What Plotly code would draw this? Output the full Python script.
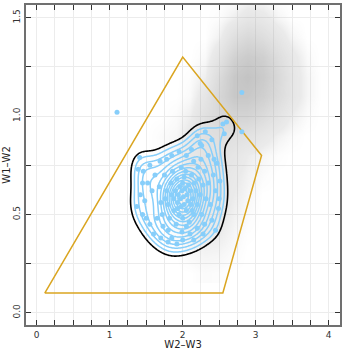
import numpy as np
import plotly.graph_objects as go

# ---- data ----
# wedge polygon (W2-W3, W1-W2)
wedge_x = [0.11, 2.00, 3.08, 2.55, 0.11]
wedge_y = [0.10, 1.30, 0.80, 0.10, 0.10]

# background (gray) population: estimated point density on a coarse grid
grid_x = [1.5, 1.7, 1.9, 2.1, 2.3, 2.5, 2.7, 2.9, 3.1, 3.3, 3.5, 3.7, 3.9]
grid_y = [0.2, 0.3, 0.4, 0.5, 0.6, 0.7, 0.8, 0.9, 1.0, 1.1, 1.2, 1.3, 1.4, 1.5, 1.6]
density = [
    [0, 0, 0, 0, 0.3, 0.2, 0, 0, 0, 0, 0, 0, 0],        # 0.2
    [0, 0, 0, 0.5, 0.8, 0.7, 0.3, 0, 0, 0, 0, 0, 0],    # 0.3
    [0, 0, 0.3, 1.0, 1.5, 1.4, 0.6, 0.1, 0, 0, 0, 0, 0],  # 0.4
    [0, 0, 0.3, 1.4, 2.0, 2.0, 1.0, 0.3, 0, 0, 0, 0, 0],  # 0.5
    [0, 0, 0.3, 1.6, 2.5, 2.4, 1.4, 0.6, 0, 0, 0, 0, 0],  # 0.6
    [0, 0, 0.3, 1.6, 2.8, 2.8, 1.8, 0.9, 0.3, 0, 0, 0, 0],  # 0.7
    [0, 0.2, 0.8, 2.0, 3.2, 3.3, 2.5, 1.4, 0.7, 0.2, 0, 0, 0],  # 0.8
    [0, 0.3, 0.6, 2.0, 3.8, 4.2, 4.0, 3.4, 2.2, 1.0, 0.3, 0, 0],  # 0.9
    [0, 0, 0.3, 1.2, 3.8, 5.5, 6.5, 6.5, 5.0, 3.0, 1.2, 0.3, 0],  # 1.0
    [0, 0, 0, 0.4, 2.5, 6.0, 9.0, 9.0, 7.5, 5.0, 2.5, 0.7, 0],  # 1.1
    [0, 0, 0, 0.2, 1.2, 5.0, 9.0, 10.0, 8.5, 5.5, 2.5, 0.7, 0],  # 1.2
    [0, 0, 0, 0, 0.4, 3.0, 7.0, 8.5, 7.5, 4.5, 2.0, 0.4, 0],  # 1.3
    [0, 0, 0, 0, 0, 1.0, 4.0, 5.5, 4.5, 2.5, 0.7, 0, 0],  # 1.4
    [0, 0, 0, 0, 0, 0.2, 1.2, 2.5, 2.0, 0.7, 0, 0, 0],  # 1.5
    [0, 0, 0, 0, 0, 0, 0, 0.5, 0.4, 0, 0, 0, 0],  # 1.6
]

# highlighted (blue) sources
blue_x = [1.10, 2.81, 2.55, 2.60, 2.81, 2.57,
          1.41, 1.39, 1.46, 1.37, 1.48, 1.52, 1.55, 1.58, 1.50,
          1.45, 1.55, 1.60, 1.70, 1.42, 1.45,
          1.69, 1.78, 1.85, 1.95, 2.05, 2.12, 2.24, 2.26, 2.31, 2.20, 2.35, 2.40,
          2.47, 2.42, 2.51, 2.45, 2.49, 2.40, 2.45, 2.50, 2.43,
          1.73, 1.99, 1.85, 2.10, 2.20, 1.65, 2.30, 1.92,
          1.80, 2.00, 2.15, 2.28,
          1.62, 1.68, 1.70, 1.72, 1.75, 1.78, 1.80, 1.82, 1.84, 1.86, 1.88, 1.88,
          1.90, 1.91, 1.92, 1.93, 1.94, 1.95, 1.96, 1.97, 1.98, 1.99, 2.00, 2.00,
          2.01, 2.02, 2.03, 2.04, 2.05, 2.06, 2.07, 2.08, 2.09, 2.10, 2.11, 2.12,
          2.14, 2.15, 2.16, 2.18, 2.20, 2.21, 2.22, 2.24, 2.26, 2.28, 2.30, 2.32,
          2.35, 2.25, 2.15, 1.98, 1.80, 2.05, 1.85, 1.93, 2.02, 1.76, 2.13, 2.38]
blue_y = [1.02, 1.12, 0.96, 0.97, 0.92, 0.91,
          0.79, 0.73, 0.72, 0.54, 0.57, 0.66, 0.75, 0.62, 0.48,
          0.50, 0.45, 0.40, 0.38, 0.60, 0.66,
          0.77, 0.78, 0.80, 0.82, 0.80, 0.83, 0.86, 0.85, 0.92, 0.90, 0.80, 0.88,
          0.76, 0.70, 0.67, 0.62, 0.53, 0.47, 0.42, 0.58, 0.78,
          0.44, 0.41, 0.38, 0.40, 0.43, 0.48, 0.45, 0.35,
          0.36, 0.37, 0.37, 0.40,
          0.70, 0.64, 0.56, 0.50, 0.70, 0.62, 0.55, 0.48, 0.66, 0.72, 0.58, 0.52,
          0.62, 0.45, 0.68, 0.56, 0.60, 0.50, 0.64, 0.58, 0.54, 0.62, 0.66, 0.48,
          0.59, 0.55, 0.63, 0.72, 0.52, 0.60, 0.57, 0.65, 0.46, 0.62, 0.55, 0.70,
          0.58, 0.50, 0.66, 0.62, 0.55, 0.74, 0.68, 0.60, 0.50, 0.65, 0.72, 0.58,
          0.66, 0.78, 0.77, 0.74, 0.42, 0.44, 0.60, 0.53, 0.69, 0.58, 0.52, 0.55]

x_ticks = [0, 1, 2, 3, 4]
y_ticks = [0.0, 0.5, 1.0, 1.5]

# ---- kernel density of the blue sources (for the contours) ----
bx, by = 0.13, 0.065
gx = np.linspace(1.0, 3.0, 161)
gy = np.linspace(0.15, 1.15, 141)
GX, GY = np.meshgrid(gx, gy)
Z = np.zeros_like(GX)
for px, py in zip(blue_x, blue_y):
    Z += np.exp(-0.5 * (((GX - px) / bx) ** 2 + ((GY - py) / by) ** 2))
Z = Z / Z.max()

fig = go.Figure()

fig.add_trace(go.Heatmap(
    x=grid_x, y=grid_y, z=density, zsmooth="best", showscale=False,
    zmin=0, zmax=10, hoverinfo="skip",
    colorscale=[[0, "rgba(150,150,150,0)"], [0.15, "rgba(150,150,150,0.2)"],
                [1, "rgba(140,140,140,0.52)"]],
))

fig.add_trace(go.Scatter(
    x=wedge_x, y=wedge_y, mode="lines",
    line=dict(color="#DAA520", width=1.5), hoverinfo="skip",
))

fig.add_trace(go.Scatter(
    x=blue_x, y=blue_y, mode="markers",
    marker=dict(color="#87CEFA", size=5, line=dict(width=0)),
))

fig.add_trace(go.Contour(
    x=gx, y=gy, z=Z, showscale=False, hoverinfo="skip",
    contours=dict(coloring="lines", start=0.17, end=0.95, size=0.06),
    colorscale=[[0, "#87CEFA"], [1, "#87CEFA"]],
    line=dict(width=1.5),
))

fig.add_trace(go.Contour(
    x=gx, y=gy, z=Z, showscale=False, hoverinfo="skip",
    contours=dict(coloring="lines", start=0.115, end=0.115, size=0.1),
    colorscale=[[0, "black"], [1, "black"]],
    line=dict(width=1.6),
))

axis_common = dict(
    showline=True, linecolor="#707070", linewidth=2, mirror="ticks",
    ticks="inside", ticklen=5, tickcolor="#333", tickwidth=1,
    showgrid=True, gridcolor="#ececec", gridwidth=1,
    zeroline=False, automargin=False,
    tickfont=dict(size=9, color="#333", family="DejaVu Sans"),
)
minor_common = dict(dtick=0.25, tick0=0, ticks="inside", ticklen=5, tickcolor="#333",
                    showgrid=True, gridcolor="#ececec")

fig.update_xaxes(
    **axis_common, range=[-0.147, 4.155], tickvals=x_ticks, minor=minor_common,
    title=dict(text="W2–W3", font=dict(size=10, color="#222", family="DejaVu Sans"),
               standoff=0),
)
fig.update_yaxes(
    **axis_common, range=[-0.0625, 1.565], tickvals=y_ticks, tickformat=".1f",
    tickangle=-90, minor=minor_common,
    title=dict(text="W1–W2", font=dict(size=10, color="#222", family="DejaVu Sans"),
               standoff=0),
)

fig.update_layout(
    width=350, height=350, showlegend=False,
    margin=dict(l=26, r=10, t=5, b=25),
    plot_bgcolor="white", paper_bgcolor="white",
)

fig.write_html(
    "out.html",
    config={"responsive": False, "displayModeBar": False},
    post_script="document.body.style.margin='0px';document.body.style.padding='0px';"
                "document.body.style.overflow='hidden';",
)
